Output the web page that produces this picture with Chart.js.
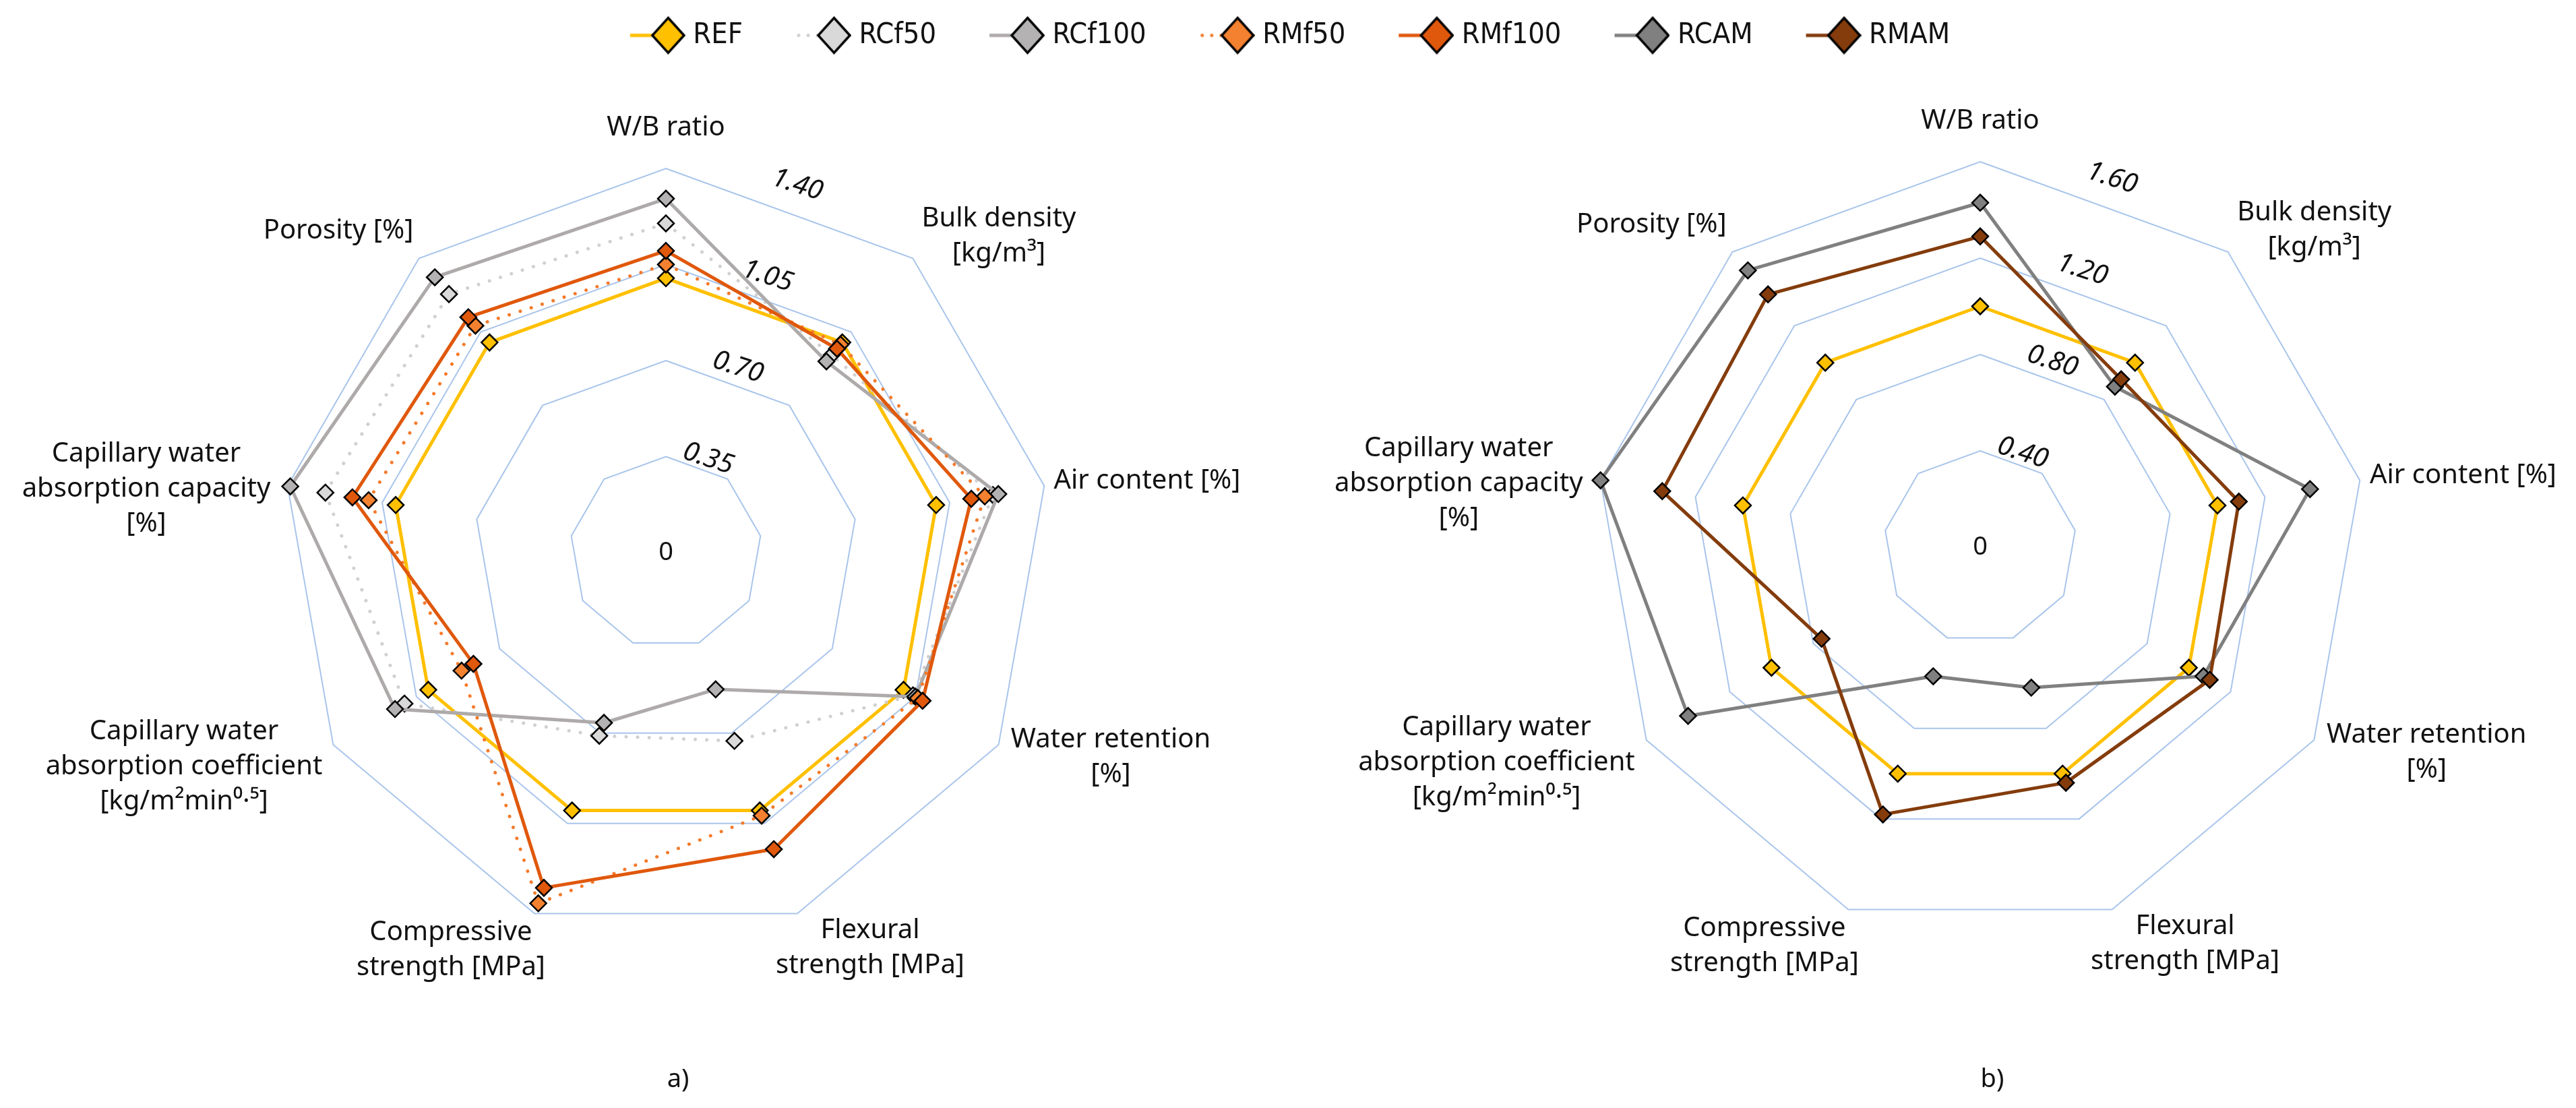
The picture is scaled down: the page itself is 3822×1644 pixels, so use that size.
<!DOCTYPE html>
<html>
<head>
<meta charset="utf-8">
<script src="https://cdn.jsdelivr.net/npm/chart.js@4.4.1/dist/chart.umd.min.js"></script>
<style>
  html, body { margin: 0; background: #fff; }
  body { width: 3822px; height: 1644px; position: relative; overflow: hidden; font-family: "Noto Sans", sans-serif; }
  canvas { position: absolute; }
  .cap { position: absolute; font-size: 38px; color: #111; transform: translate(-50%, -50%); }
</style>
</head>
<body>
<canvas id="legend" width="3770" height="420" style="left:30px;top:-50px"></canvas>
<canvas id="chartA" width="1911" height="1534" style="left:0;top:110px"></canvas>
<canvas id="chartB" width="1911" height="1534" style="left:1911px;top:110px"></canvas>
<div class="cap" style="left:1006px;top:1598px">a)</div>
<div class="cap" style="left:2956px;top:1598px">b)</div>
<script>
// axes, clockwise from the top
var categories = [
    "W/B ratio",
    ["Bulk density", "[kg/m³]"],
    "Air content [%]",
    ["Water retention", "[%]"],
    ["Flexural", "strength [MPa]"],
    ["Compressive", "strength [MPa]"],
    ["Capillary water", "absorption coefficient", "[kg/m²min⁰·⁵]"],
    ["Capillary water", "absorption capacity", "[%]"],
    "Porosity [%]"
];

var tickValuesA = [0, 0.35, 0.70, 1.05, 1.40];
var tickLabelsA = ["0", "0.35", "0.70", "1.05", "1.40"];
var tickValuesB = [0, 0.40, 0.80, 1.20, 1.60];
var tickLabelsB = ["0", "0.40", "0.80", "1.20", "1.60"];

var REF    = [1.00, 1.00, 1.00, 1.00, 1.00, 1.00, 1.00, 1.00, 1.00];
var RCf50  = [1.20, 0.94, 1.21, 1.04, 0.73, 0.71, 1.10, 1.26, 1.23];
var RCf100 = [1.29, 0.91, 1.23, 1.05, 0.53, 0.66, 1.14, 1.39, 1.31];
var RMf50  = [1.05, 0.99, 1.18, 1.06, 1.02, 1.36, 0.86, 1.10, 1.08];
var RMf100 = [1.10, 0.97, 1.13, 1.08, 1.15, 1.30, 0.81, 1.16, 1.12];
var RCAM   = [1.43, 0.87, 1.39, 1.07, 0.62, 0.57, 1.40, 1.60, 1.50];
var RMAM   = [1.29, 0.91, 1.09, 1.10, 1.04, 1.18, 0.76, 1.34, 1.37];

var FONT = '"Noto Sans", sans-serif';
var NARROW = '"Liberation Sans Narrow", "DejaVu Sans Condensed", Roboto, sans-serif';

var styles = {
    REF:    { line: "#FFC000", fill: "#FFC000", dotted: false },
    RCf50:  { line: "#D0D0D0", fill: "#D9D9D9", dotted: true },
    RCf100: { line: "#AEAAAA", fill: "#B4B2B2", dotted: false },
    RMf50:  { line: "#F47B2C", fill: "#F4812F", dotted: true },
    RMf100: { line: "#E0580C", fill: "#E0580C", dotted: false },
    RCAM:   { line: "#808080", fill: "#808080", dotted: false },
    RMAM:   { line: "#843C0C", fill: "#843C0C", dotted: false }
};
var legendOrder = ["REF", "RCf50", "RCf100", "RMf50", "RMf100", "RCAM", "RMAM"];

// where the axis titles sit, relative to the centre (for a 570px radius)
var labelOffsets = [[0, -630], [494, -469], [714, -106], [660, 304], [303, 587],
                    [-319, 590], [-715, 318], [-771, -94], [-486, -477]];

function ds(name, data, order) {
    var s = styles[name];
    return {
        label: name,
        data: data,
        order: order,
        borderColor: s.line,
        backgroundColor: s.fill,
        borderWidth: 5,
        borderDash: s.dotted ? [0.1, 17] : [],
        borderCapStyle: "round",
        borderJoinStyle: "round",
        fill: false,
        pointStyle: "rectRot",
        pointRadius: 12,
        pointBackgroundColor: s.fill,
        pointBorderColor: "#000",
        pointBorderWidth: 2.5
    };
}

var radarText = {
    id: "radarText",
    afterDraw: function (chart, args, opts) {
        var s = chart.scales.r;
        var c = chart.ctx;
        var k = s.drawingArea / 570;
        c.save();
        c.fillStyle = "#111";
        c.textAlign = "center";
        c.textBaseline = "middle";
        c.font = "40px " + FONT;
        chart.data.labels.forEach(function (lab, i) {
            var lines = [].concat(lab);
            var x = s.xCenter + labelOffsets[i][0] * k;
            var y = s.yCenter + labelOffsets[i][1] * k;
            lines.forEach(function (t, j) {
                c.fillText(t, x, y + (j - (lines.length - 1) / 2) * 52);
            });
        });
        s.ticks.forEach(function (t, i) {
            var txt = opts.tickLabels[i];
            if (t.value === 0) {
                c.font = "38px " + FONT;
                c.fillText(txt, s.xCenter, s.yCenter);
                return;
            }
            var r = s.getDistanceFromCenterForValue(t.value);
            c.save();
            c.translate(s.xCenter + 18.7 * k + 0.309 * r, s.yCenter - 4 * k - 0.95 * r);
            c.rotate(18 * Math.PI / 180);
            c.font = "italic 40px " + FONT;
            c.fillText(txt, 0, 0);
            c.restore();
        });
        c.restore();
    }
};

function radarOptions(ticks, tickLabels, pad) {
    return {
        responsive: false,
        animation: false,
        devicePixelRatio: 1,
        layout: { padding: pad },
        plugins: {
            legend: { display: false },
            tooltip: { enabled: false },
            radarText: { tickLabels: tickLabels }
        },
        scales: {
            r: {
                min: ticks[0],
                max: ticks[ticks.length - 1],
                afterBuildTicks: function (scale) {
                    scale.ticks = ticks.map(function (v) { return { value: v }; });
                },
                ticks: { display: false },
                grid: { color: "#A9C5EB", lineWidth: 2 },
                angleLines: { display: false },
                pointLabels: { display: false }
            }
        }
    };
}

new Chart(document.getElementById("chartA"), {
    type: "radar",
    data: {
        labels: categories,
        datasets: [
            ds("REF", REF, 5),
            ds("RCf50", RCf50, 4),
            ds("RCf100", RCf100, 3),
            ds("RMf50", RMf50, 2),
            ds("RMf100", RMf100, 1)
        ]
    },
    options: radarOptions(tickValuesA, tickLabelsA, { left: 418, right: 353, top: 140, bottom: 254 }),
    plugins: [radarText]
});

new Chart(document.getElementById("chartB"), {
    type: "radar",
    data: {
        labels: categories,
        datasets: [
            ds("REF", REF, 3),
            ds("RCAM", RCAM, 2),
            ds("RMAM", RMAM, 1)
        ]
    },
    options: radarOptions(tickValuesB, tickLabelsB, { left: 455, right: 312, top: 130, bottom: 260 }),
    plugins: [radarText]
});

// legend symbol: short line with the marker on its end
function legendSymbol(s) {
    var cv = document.createElement("canvas");
    cv.width = 90;
    cv.height = 60;
    var g = cv.getContext("2d");
    g.strokeStyle = s.line;
    g.lineWidth = 5;
    g.lineCap = s.dotted ? "round" : "butt";
    g.setLineDash(s.dotted ? [0.1, 14] : []);
    g.beginPath();
    g.moveTo(s.dotted ? 12 : 8, 30);
    g.lineTo(64, 30);
    g.stroke();
    g.setLineDash([]);
    g.beginPath();
    g.moveTo(64.5, 4);
    g.lineTo(88, 30);
    g.lineTo(64.5, 56);
    g.lineTo(41, 30);
    g.closePath();
    g.fillStyle = s.fill;
    g.fill();
    g.lineWidth = 3.5;
    g.lineJoin = "miter";
    g.strokeStyle = "#000";
    g.stroke();
    return cv;
}

new Chart(document.getElementById("legend"), {
    type: "line",
    data: { labels: [], datasets: [] },
    options: {
        responsive: false,
        animation: false,
        devicePixelRatio: 1,
        scales: { x: { display: false }, y: { display: false } },
        plugins: {
            tooltip: { enabled: false },
            legend: {
                position: "top",
                labels: {
                    usePointStyle: true,
                    pointStyleWidth: 70,
                    boxHeight: 43,
                    padding: 81,
                    color: "#111",
                    font: { size: 43, family: NARROW },
                    generateLabels: function () {
                        return legendOrder.map(function (name, i) {
                            return {
                                text: name,
                                pointStyle: legendSymbol(styles[name]),
                                fillStyle: styles[name].fill,
                                strokeStyle: "#000",
                                lineWidth: 0,
                                fontColor: "#111",
                                hidden: false,
                                datasetIndex: i
                            };
                        });
                    }
                }
            }
        }
    }
});
</script>
</body>
</html>
